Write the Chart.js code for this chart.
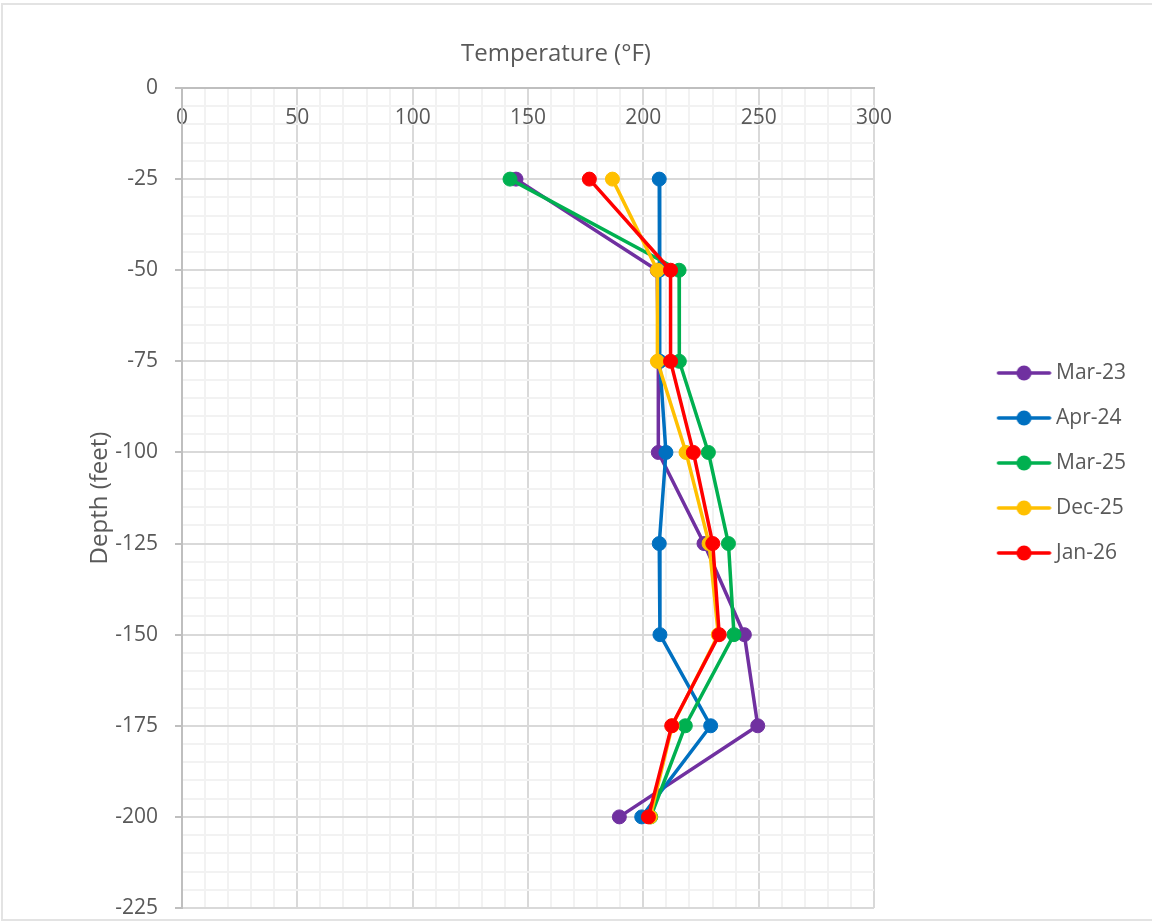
<!DOCTYPE html>
<html>
<head>
<meta charset="utf-8">
<script src="https://cdn.jsdelivr.net/npm/chart.js@4.4.1/dist/chart.umd.min.js"></script>
<style>
html,body{margin:0;padding:0;background:#fff;overflow:hidden}
#wrap{position:relative;width:1152px;height:922px;overflow:hidden}
#frame{position:absolute;left:1px;top:3px;width:1200px;height:918px;border:2px solid #e3e3e3;box-sizing:border-box;pointer-events:none}
canvas{display:block}
</style>
</head>
<body>
<div id="wrap"><canvas id="c" width="1152" height="922"></canvas><div id="frame"></div></div>
<script>
// ---- data ----
const depths = [-25, -50, -75, -100, -125, -150, -175, -200];
const seriesNames = ['Mar-23', 'Apr-24', 'Mar-25', 'Dec-25', 'Jan-26'];
const mar23 = [144.8, 206.0, 206.5, 206.5, 226.3, 243.8, 249.6, 189.6];
const apr24 = [206.9, 207.0, 207.2, 209.8, 206.9, 207.2, 229.2, 199.3];
const mar25 = [142.2, 215.5, 215.6, 228.2, 236.9, 239.3, 218.2, 203.2];
const dec25 = [186.6, 206.1, 206.1, 218.5, 228.5, 232.5, 212.5, 203.0];
const jan26 = [176.6, 211.8, 211.8, 221.7, 230.1, 232.9, 212.3, 202.2];
const xTickLabels = [0, 50, 100, 150, 200, 250, 300];
const yTickLabels = [0, -25, -50, -75, -100, -125, -150, -175, -200, -225];

// ---- styles ----
const seriesValues = [mar23, apr24, mar25, dec25, jan26];
const seriesColors = ['#7030A0', '#0070C0', '#00B050', '#FFC000', '#FF0000'];
const FONT = "'Open Sans', 'Noto Sans', sans-serif";
const TEXT = '#595959';
const PLOT_LEFT = 182, PLOT_RIGHT = 874;
const LEG_FONT = 21, LEG_PAD = 24, LEG_BOX = 147.5;

// measure legend text to place legend / title
const mctx = document.createElement('canvas').getContext('2d');
mctx.font = LEG_FONT + 'px ' + FONT;
const maxTextW = Math.max(...seriesNames.map(n => mctx.measureText(n).width));
const legendW = LEG_PAD + LEG_BOX + LEG_FONT / 2 + maxTextW + 10;
const padR = 1152 - PLOT_RIGHT - legendW;
const padL = 2 * 556 - 1152 + padR;

// legend icons: line with a dot
const ICON_W = 160, ICON_H = 20;
const iconLeft = PLOT_RIGHT + LEG_PAD + LEG_BOX / 2 - ICON_W / 2;
function makeIcon(color) {
  const c = document.createElement('canvas');
  c.width = ICON_W; c.height = ICON_H;
  const g = c.getContext('2d');
  g.strokeStyle = color; g.lineWidth = 3.5; g.lineCap = 'round';
  g.beginPath(); g.moveTo(998.5 - iconLeft, ICON_H / 2); g.lineTo(1049.5 - iconLeft, ICON_H / 2); g.stroke();
  g.fillStyle = color;
  g.beginPath(); g.arc(1024 - iconLeft, ICON_H / 2, 7.5, 0, Math.PI * 2); g.fill();
  return c;
}
const icons = seriesColors.map(makeIcon);

const isMajor = (v, step) => Math.round(v) % step === 0;

const datasets = seriesNames.map((name, i) => ({
  label: name,
  data: depths.map((d, k) => ({ x: seriesValues[i][k], y: d })),
  showLine: true,
  borderColor: seriesColors[i],
  backgroundColor: seriesColors[i],
  borderWidth: 3.5,
  borderJoinStyle: 'round',
  borderCapStyle: 'round',
  tension: 0,
  pointRadius: 7,
  pointHoverRadius: 7,
  pointBorderWidth: 1,
  pointBackgroundColor: seriesColors[i],
  pointBorderColor: seriesColors[i],
  order: seriesNames.length - i
}));

new Chart(document.getElementById('c'), {
  type: 'scatter',
  data: { datasets },
  options: {
    responsive: false,
    animation: false,
    events: [],
    layout: { padding: { left: padL, right: padR, top: 18, bottom: 14 } },
    plugins: {
      tooltip: { enabled: false },
      title: {
        display: true,
        text: 'Temperature (°F)',
        color: TEXT,
        font: { family: FONT, size: 24, weight: 'normal' },
        padding: { top: 21.6, bottom: 19.6 }
      },
      legend: {
        position: 'right',
        align: 'center',
        labels: {
          usePointStyle: true,
          pointStyleWidth: LEG_BOX,
          padding: LEG_PAD,
          color: TEXT,
          font: { family: FONT, size: LEG_FONT },
          generateLabels(chart) {
            const items = Chart.defaults.plugins.legend.labels.generateLabels(chart);
            items.forEach(it => { it.pointStyle = icons[it.datasetIndex]; });
            return items.sort((a, b) => a.datasetIndex - b.datasetIndex);
          }
        }
      }
    },
    scales: {
      x: {
        type: 'linear',
        position: { y: 0 },
        min: 0, max: 300,
        ticks: {
          stepSize: 10, autoSkip: false, maxRotation: 0, padding: 17,
          color: TEXT, font: { family: FONT, size: 21 },
          callback: v => xTickLabels.includes(Math.round(v)) && isMajor(v, 50) ? String(Math.round(v)) : ''
        },
        grid: {
          drawTicks: false,
          lineWidth: 2,
          color: c => (c.tick && isMajor(c.tick.value, 50)) ? '#d9d9d9' : '#f2f2f2'
        },
        border: { display: true, color: '#bfbfbf', width: 2 }
      },
      y: {
        type: 'linear',
        position: 'left',
        min: -225, max: 0,
        afterFit(s) { s.width = PLOT_LEFT - padL; s.paddingTop = 0; s.paddingBottom = 0; },
        ticks: {
          stepSize: 5, autoSkip: false, padding: 17,
          color: TEXT, font: { family: FONT, size: 21 },
          callback: v => yTickLabels.includes(Math.round(v)) ? String(Math.round(v)) : ''
        },
        grid: {
          lineWidth: 2,
          tickLength: 7,
          color: c => (c.tick && isMajor(c.tick.value, 25)) ? '#d9d9d9' : '#f2f2f2',
          tickColor: c => (c.tick && isMajor(c.tick.value, 25)) ? '#bfbfbf' : 'rgba(0,0,0,0)'
        },
        border: { display: true, color: '#bfbfbf', width: 2 },
        title: {
          display: true,
          text: 'Depth (feet)',
          color: TEXT,
          font: { family: FONT, size: 24, weight: 'normal' },
          padding: { top: 100 - 14.4 - padL, bottom: 0 }
        }
      }
    }
  }
});
</script>
</body>
</html>
